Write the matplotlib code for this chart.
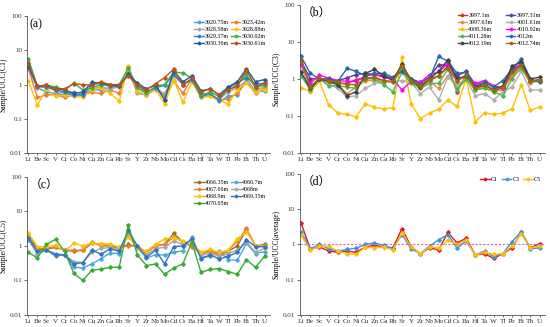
import matplotlib
matplotlib.use("Agg")
import matplotlib.pyplot as plt
from matplotlib.ticker import FixedLocator, NullLocator, FixedFormatter

plt.rcParams['font.family'] = ['Liberation Serif', 'Noto Sans CJK SC', 'DejaVu Serif']

elements = ["Li", "Be", "Sc", "V", "Cr", "Co", "Ni", "Cu", "Zn", "Ga", "Rb", "Sr", "Y", "Zr",
            "Nb", "Mo", "Cd", "Cs", "Ba", "Hf", "Ta", "W", "Tl", "Pb", "Bi", "Th", "U"]
yticks = [0.01, 0.1, 1, 10, 100]
ytick_labels = ["0.01", "0.1", "1", "10", "100"]

# ---------------- panel (a) ----------------
a_names = ["3920.75m", "3923.42m", "3928.58m", "3928.88m", "3929.37m", "3930.02m", "3930.36m", "3930.61m"]
a_colors = ["#3fa0e0", "#ed7d31", "#a5a5a5", "#ffc000", "#2f7fd0", "#3cb43c", "#1f5c99", "#c0501a"]
a_3920_75 = [3.0, 0.8, 0.6, 0.55, 0.5, 0.5, 0.5, 0.7, 0.7, 0.8, 0.9, 2.2, 0.8, 0.55, 0.85, 0.5, 2.0, 1.0, 1.4, 0.45, 0.5, 0.32, 0.45, 0.5, 1.5, 0.6, 0.65]
a_3923_42 = [2.9, 0.42, 0.5, 0.5, 0.42, 0.5, 0.5, 0.6, 0.55, 0.7, 0.55, 3.3, 0.6, 0.5, 0.75, 0.45, 1.3, 0.55, 1.5, 0.5, 0.5, 0.35, 0.38, 0.55, 1.2, 0.55, 0.8]
a_3928_58 = [3.2, 0.8, 0.85, 0.65, 0.55, 0.6, 0.55, 0.75, 0.85, 0.75, 0.85, 2.5, 0.55, 0.5, 0.7, 0.55, 1.8, 1.1, 1.3, 0.42, 0.48, 0.38, 0.6, 0.8, 1.3, 0.65, 0.9]
a_3928_88 = [1.3, 0.25, 0.75, 0.45, 0.5, 0.45, 0.42, 0.7, 0.8, 0.55, 0.33, 3.5, 0.65, 0.5, 0.75, 0.27, 1.4, 0.3, 1.2, 0.42, 0.45, 0.35, 0.27, 0.7, 1.1, 0.6, 0.7]
a_3929_37 = [3.3, 0.9, 0.85, 0.7, 0.6, 0.5, 0.5, 1.0, 1.1, 0.9, 0.95, 2.0, 1.0, 0.6, 0.8, 0.95, 2.0, 1.0, 1.4, 0.45, 0.55, 0.35, 0.8, 1.1, 1.6, 1.0, 1.1]
a_3930_02 = [5.6, 0.9, 0.95, 0.85, 0.7, 1.1, 0.7, 0.8, 1.0, 0.9, 1.0, 3.0, 0.85, 0.55, 0.9, 1.0, 2.3, 2.2, 1.5, 0.5, 0.6, 0.45, 0.7, 0.95, 2.0, 0.8, 1.0]
a_3930_36 = [3.5, 0.9, 0.95, 0.75, 0.7, 0.55, 0.6, 1.15, 1.1, 0.95, 0.9, 2.0, 1.1, 0.75, 0.95, 0.35, 2.5, 1.2, 1.8, 0.65, 0.75, 0.5, 0.85, 1.2, 2.9, 1.2, 1.4]
a_3930_61 = [4.2, 0.9, 0.95, 0.75, 0.75, 1.05, 1.0, 0.95, 1.2, 1.0, 1.0, 1.8, 0.95, 0.7, 1.05, 1.6, 2.8, 1.0, 1.5, 0.6, 0.75, 0.5, 0.7, 0.9, 2.7, 0.85, 1.1]
a_series = [a_3920_75, a_3923_42, a_3928_58, a_3928_88, a_3929_37, a_3930_02, a_3930_36, a_3930_61]

# ---------------- panel (b) ----------------
b_names = ["3997.1m", "3997.31m", "3997.63m", "4001.61m", "4008.36m", "4010.92m", "4011.28m", "4012m", "4012.19m", "4012.74m"]
b_colors = ["#c0392b", "#7030a0", "#f08a4b", "#b0b0b0", "#ffc000", "#ff00ff", "#4cb848", "#1f6ea8", "#404040", "#9c6b00"]
b_3997_1 = [2.8, 0.5, 1.0, 0.85, 0.75, 0.75, 0.95, 1.05, 1.05, 0.9, 0.8, 2.0, 0.85, 0.6, 0.9, 1.2, 2.2, 0.45, 1.3, 0.55, 0.65, 0.5, 0.55, 1.3, 2.4, 0.8, 0.95]
b_3997_31 = [3.0, 1.0, 1.0, 0.95, 0.9, 1.05, 1.3, 1.4, 1.3, 1.2, 1.05, 2.0, 1.0, 0.8, 1.1, 2.4, 2.3, 1.2, 1.6, 0.7, 0.8, 0.6, 0.6, 1.8, 2.5, 0.85, 0.95]
b_3997_63 = [2.5, 0.5, 0.95, 0.8, 0.7, 0.4, 0.6, 0.9, 0.9, 0.85, 0.8, 1.8, 0.8, 0.55, 0.85, 0.55, 1.2, 0.6, 1.1, 0.5, 0.6, 0.45, 0.5, 1.2, 2.0, 0.75, 0.9]
b_4001_61 = [2.2, 0.6, 0.95, 0.75, 0.55, 0.32, 0.35, 0.55, 0.75, 0.8, 0.85, 0.9, 0.8, 0.4, 0.6, 0.27, 1.1, 0.7, 0.95, 0.35, 0.4, 0.27, 0.45, 0.6, 1.6, 0.5, 0.5]
b_4008_36 = [0.58, 0.45, 0.85, 0.2, 0.12, 0.11, 0.095, 0.21, 0.17, 0.155, 0.165, 3.8, 0.21, 0.085, 0.12, 0.15, 0.27, 0.18, 1.0, 0.07, 0.12, 0.11, 0.12, 0.155, 0.68, 0.14, 0.175]
b_4010_92 = [2.5, 0.75, 1.25, 1.05, 0.9, 0.85, 0.85, 1.2, 1.3, 1.1, 1.0, 0.5, 0.85, 0.8, 1.3, 1.5, 2.6, 0.9, 1.2, 0.75, 0.9, 0.65, 0.55, 1.6, 2.6, 0.9, 0.9]
b_4011_28 = [1.2, 0.5, 1.0, 0.65, 0.65, 0.6, 0.55, 1.0, 1.0, 0.7, 0.45, 1.5, 0.75, 0.55, 0.75, 0.75, 1.8, 0.5, 1.0, 0.5, 0.55, 0.45, 0.35, 1.0, 2.0, 0.85, 0.9]
b_4012 = [4.0, 1.4, 1.0, 1.0, 0.85, 1.9, 1.6, 1.2, 1.4, 1.4, 1.1, 1.6, 1.0, 0.7, 1.0, 4.0, 3.0, 1.4, 1.5, 0.6, 0.8, 0.6, 0.9, 1.8, 3.4, 1.0, 0.8]
b_4012_19 = [1.5, 0.55, 1.0, 0.85, 0.7, 0.35, 0.45, 1.4, 1.8, 1.2, 0.9, 2.5, 0.9, 0.6, 1.0, 1.6, 3.2, 1.0, 1.2, 0.6, 0.7, 0.5, 0.65, 2.2, 2.8, 1.0, 1.1]
b_4012_74 = [3.2, 0.6, 1.05, 0.9, 0.8, 0.7, 0.7, 1.0, 1.1, 0.9, 0.85, 2.2, 0.9, 0.65, 1.0, 1.2, 2.0, 0.85, 1.3, 0.55, 0.7, 0.5, 0.6, 1.5, 2.3, 0.85, 0.95]
b_series = [b_3997_1, b_3997_31, b_3997_63, b_4001_61, b_4008_36, b_4010_92, b_4011_28, b_4012, b_4012_19, b_4012_74]

# ---------------- panel (c) ----------------
c_names = ["4066.35m", "4066.7m", "4067.66m", "4068m", "4068.9m", "4069.35m", "4070.05m"]
c_colors = ["#a0701f", "#4aa8e0", "#ed7d31", "#a5a5a5", "#ffc000", "#2f75c5", "#3aaa35"]
c_4066_35 = [2.0, 0.75, 0.8, 0.9, 0.75, 0.7, 0.75, 1.2, 1.1, 1.0, 0.85, 1.1, 0.95, 0.65, 1.05, 1.1, 2.3, 1.3, 1.0, 0.6, 0.7, 0.55, 0.7, 1.0, 3.0, 1.0, 1.1]
c_4066_7 = [1.5, 0.6, 0.75, 0.6, 0.55, 0.24, 0.23, 0.3, 0.43, 0.62, 0.6, 2.5, 0.9, 0.45, 0.55, 0.55, 0.65, 0.72, 1.8, 0.45, 0.5, 0.7, 0.4, 0.38, 1.2, 0.6, 0.68]
c_4067_66 = [2.2, 0.85, 0.85, 0.95, 0.75, 0.75, 0.75, 1.3, 1.0, 1.0, 0.9, 1.0, 1.0, 0.65, 1.0, 1.1, 1.8, 1.3, 0.95, 0.6, 0.7, 0.6, 0.7, 1.4, 3.2, 1.0, 1.0]
c_4068 = [1.8, 0.6, 0.75, 0.5, 0.55, 0.35, 0.33, 0.65, 0.85, 0.9, 0.75, 2.2, 0.85, 0.55, 0.85, 0.9, 1.4, 1.1, 1.1, 0.55, 0.6, 0.5, 0.6, 0.75, 1.3, 0.65, 0.85]
c_4068_9 = [2.4, 0.95, 0.95, 1.05, 0.7, 1.2, 1.0, 1.2, 1.15, 1.15, 0.9, 1.8, 0.9, 0.7, 1.1, 1.6, 1.7, 1.4, 1.2, 0.65, 0.8, 0.65, 0.75, 1.6, 2.6, 1.0, 1.0]
c_4069_35 = [1.7, 0.7, 0.75, 0.55, 0.55, 0.3, 0.33, 0.75, 0.58, 0.82, 0.7, 2.8, 1.0, 0.47, 0.75, 0.3, 0.95, 1.0, 1.6, 0.43, 0.55, 0.42, 0.5, 0.65, 1.5, 0.95, 0.95]
c_4070_05 = [0.65, 0.45, 1.1, 1.55, 0.7, 0.16, 0.1, 0.2, 0.21, 0.24, 0.24, 4.0, 0.55, 0.27, 0.3, 0.15, 0.23, 0.3, 1.3, 0.17, 0.21, 0.22, 0.18, 0.15, 0.4, 0.24, 0.5]
c_series = [c_4066_35, c_4066_7, c_4067_66, c_4068, c_4068_9, c_4069_35, c_4070_05]

# ---------------- panel (d) ----------------
d_names = ["C1", "C3", "C5"]
d_colors = ["#e8141b", "#2e9bda", "#ffc000"]
d_C1 = [4.0, 0.75, 0.85, 0.65, 0.6, 0.65, 0.6, 0.85, 0.95, 0.85, 0.8, 2.8, 0.85, 0.55, 0.8, 0.7, 2.2, 1.1, 1.5, 0.5, 0.55, 0.4, 0.55, 0.8, 2.2, 0.8, 1.05]
d_C3 = [2.3, 0.75, 1.0, 0.75, 0.65, 0.72, 0.78, 1.0, 1.1, 0.95, 0.75, 1.9, 0.75, 0.55, 0.9, 1.35, 1.9, 0.78, 1.25, 0.5, 0.65, 0.45, 0.55, 1.2, 2.3, 0.75, 0.8]
d_C5 = [1.8, 0.68, 0.9, 0.88, 0.65, 0.55, 0.52, 0.85, 0.8, 0.85, 0.7, 2.1, 0.85, 0.55, 0.85, 0.8, 1.3, 1.0, 1.3, 0.5, 0.6, 0.52, 0.55, 0.9, 2.0, 0.8, 0.9]
d_series = [d_C1, d_C3, d_C5]

fig = plt.figure(figsize=(5.5, 3.27), dpi=100)

panels = [
    ([0.049, 0.532, 0.442, 0.419], "(a)", "Sample/UCC(C1)", a_names, a_colors, a_series, 2, (1.0, 1.0), 0.3),
    ([0.545, 0.532, 0.446, 0.454], "（b）", "Sample/UCC(C3)", b_names, b_colors, b_series, 2, (1.0, 0.97), 2.2),
    ([0.049, 0.037, 0.442, 0.422], "（c）", "Sample/UCC(C5)", c_names, c_colors, c_series, 2, (1.0, 1.01), 0.3),
    ([0.545, 0.037, 0.446, 0.431], "（d）", "Sample/UCC(average)", d_names, d_colors, d_series, 3, (1.0, 1.01), 0.6),
]

x = list(range(len(elements)))
for rect, tag, ylab, names, colors, series, ncol, lpos, cspace in panels:
    ax = fig.add_axes(rect)
    handles = []
    for nm, col, vals in zip(names, colors, series):
        h, = ax.plot(x, vals, color=col, lw=1.0, marker='D', ms=1.8, label=nm)
        handles.append(h)
    if tag == "（d）":
        ax.axhline(1, color="#cc66cc", lw=0.8, ls=(0, (2, 1.5)))
    ax.set_yscale('log')
    ax.set_ylim(0.01, 100)
    ax.set_xlim(-0.15, 26.6)
    ax.yaxis.set_major_locator(FixedLocator(yticks))
    ax.yaxis.set_major_formatter(FixedFormatter(ytick_labels))
    ax.yaxis.set_minor_locator(NullLocator())
    ax.set_xticks(x)
    ax.set_xticklabels(elements)
    ax.tick_params(axis='x', labelsize=5.2, length=1.5, width=0.5, pad=1.5, colors='#333333')
    ax.tick_params(axis='y', labelsize=5.0, length=2, width=0.5, pad=1.5, colors='#333333')
    for s in ['top', 'right']:
        ax.spines[s].set_visible(False)
    for s in ['left', 'bottom']:
        ax.spines[s].set_color('#555555')
        ax.spines[s].set_linewidth(0.6)
    ax.set_ylabel(ylab, fontsize=5.5, labelpad=1.5)
    ax.text(0.01, 0.985, tag, transform=ax.transAxes, fontsize=8.5, va='top', ha='left',
            family=['Liberation Serif', 'Noto Sans CJK SC'])
    # row-major legend ordering
    if ncol == 2:
        order = list(range(0, len(handles), 2)) + list(range(1, len(handles), 2))
    else:
        order = list(range(len(handles)))
    ax.legend([handles[i] for i in order], [names[i] for i in order],
              loc='upper right', bbox_to_anchor=lpos, ncol=ncol, fontsize=4.3, frameon=False,
              handlelength=1.6, handletextpad=0.2, columnspacing=cspace, labelspacing=0.3,
              borderpad=0.2, markerscale=0.8)

fig.savefig("out.png", dpi=100)
